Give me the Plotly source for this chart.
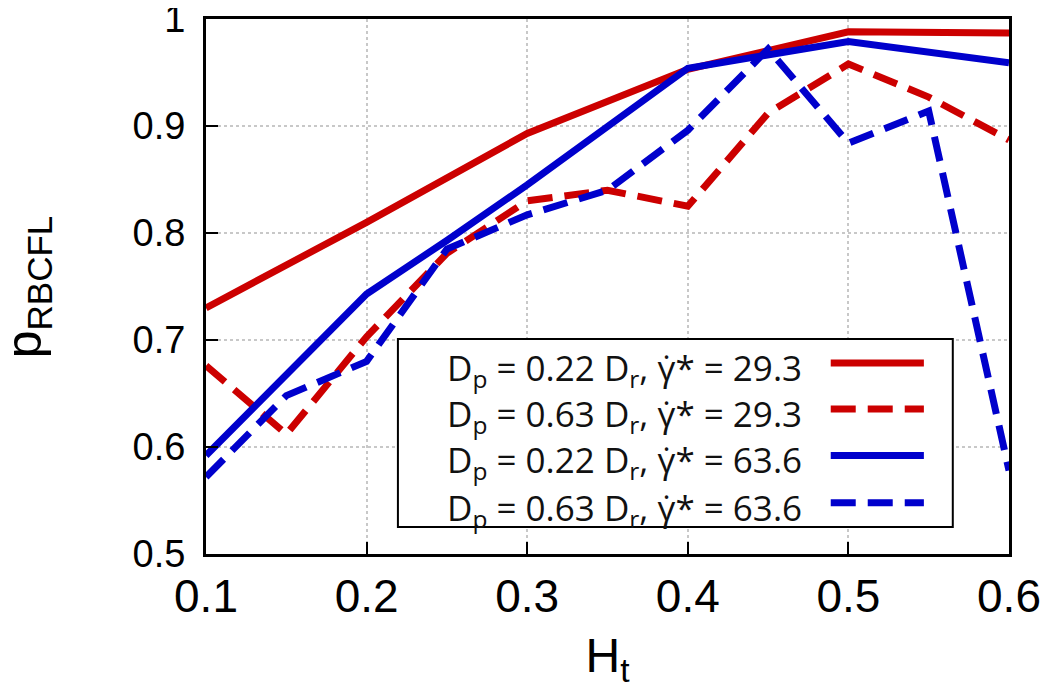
import plotly.graph_objects as go

# ---- data ----
x_solid_red = [0.1, 0.2, 0.3, 0.4, 0.5, 0.6]
y_solid_red = [0.730, 0.810, 0.893, 0.953, 0.988, 0.987]

x_solid_blue = [0.1, 0.2, 0.25, 0.3, 0.4, 0.5, 0.6]
y_solid_blue = [0.592, 0.743, 0.793, 0.845, 0.954, 0.979, 0.959]

x_dash = [0.1, 0.15, 0.2, 0.25, 0.3, 0.35, 0.4, 0.45, 0.5, 0.55, 0.6]
y_dash_red = [0.676, 0.612, 0.703, 0.781, 0.830, 0.840, 0.825, 0.912, 0.958, 0.927, 0.887]
y_dash_blue = [0.572, 0.648, 0.680, 0.785, 0.817, 0.840, 0.896, 0.972, 0.884, 0.914, 0.578]

legend_labels = [
    "D<sub>p</sub> = 0.22 D<sub>r</sub>, \u03b3\u0307* = 29.3",
    "D<sub>p</sub> = 0.63 D<sub>r</sub>, \u03b3\u0307* = 29.3",
    "D<sub>p</sub> = 0.22 D<sub>r</sub>, \u03b3\u0307* = 63.6",
    "D<sub>p</sub> = 0.63 D<sub>r</sub>, \u03b3\u0307* = 63.6",
]
x_ticks = [0.1, 0.2, 0.3, 0.4, 0.5, 0.6]
y_ticks = [0.5, 0.6, 0.7, 0.8, 0.9, 1.0]
y_tick_text = ["0.5", "0.6", "0.7", "0.8", "0.9", "1"]
x_title = "H<sub>t</sub>"
y_title = "p<sub>RBCFL</sub>"

RED = "#cc0000"
BLUE = "#0000cc"
LW = 7
DASH = "25px,12px"

series = [
    (x_solid_red, y_solid_red, RED, "solid"),
    (x_dash, y_dash_red, RED, DASH),
    (x_solid_blue, y_solid_blue, BLUE, "solid"),
    (x_dash, y_dash_blue, BLUE, DASH),
]

fig = go.Figure()
for (xs, ys, col, dash), name in zip(series, legend_labels):
    fig.add_trace(go.Scatter(x=xs, y=ys, mode="lines", name=name,
                             line=dict(color=col, width=LW, dash=dash),
                             showlegend=False, cliponaxis=True))

# ---- manual legend (text left, sample line right) ----
shapes = [dict(type="rect", xref="paper", yref="paper",
               x0=0.239, x1=0.930, y0=0.0505, y1=0.402,
               line=dict(color="black", width=2), fillcolor="white", layer="above")]
annotations = []
row_y = [0.357, 0.271, 0.184, 0.096]
for (xs, ys, col, dash), name, ry in zip(series, legend_labels, row_y):
    shapes.append(dict(type="line", xref="paper", yref="paper",
                       x0=0.778, x1=0.894, y0=ry, y1=ry,
                       line=dict(color=col, width=LW, dash=dash), layer="above"))
    annotations.append(dict(xref="paper", yref="paper", x=0.298, y=ry - 0.012,
                            xanchor="left", yanchor="middle", showarrow=False,
                            text=name, font=dict(family="Open Sans", size=35, color="#111")))

# y-axis title as rotated annotation
annotations.append(dict(xref="paper", yref="paper", x=-0.222, y=0.5,
                        xanchor="center", yanchor="middle", showarrow=False,
                        textangle=-90, text=y_title,
                        font=dict(family="Liberation Sans", size=50, color="black")))

fig.update_layout(
    width=1034, height=681,
    margin=dict(l=198, r=33, t=11, b=135),
    paper_bgcolor="white", plot_bgcolor="white",
    shapes=shapes, annotations=annotations,
    showlegend=False,
    font=dict(family="Liberation Sans", color="black"),
)
fig.update_xaxes(
    range=[0.1, 0.6], tickvals=x_ticks, ticktext=[f"{v:.1f}" for v in x_ticks],
    ticks="inside", ticklen=12, tickwidth=2, tickcolor="black",
    showline=True, linecolor="black", linewidth=3, mirror=True,
    showgrid=True, gridcolor="#c8c8c8", gridwidth=1.5, griddash="dot",
    tickfont=dict(size=46, family="Liberation Sans"), ticklabelstandoff=0,
    ticklabeloverflow="allow", automargin=False,
    title=dict(text=x_title, font=dict(size=48, family="Liberation Sans"), standoff=24),
    zeroline=False,
)
fig.update_yaxes(
    range=[0.5, 1.0], tickvals=y_ticks, ticktext=y_tick_text,
    ticks="inside", ticklen=12, tickwidth=2, tickcolor="black",
    showline=True, linecolor="black", linewidth=3, mirror=True,
    showgrid=True, gridcolor="#c8c8c8", gridwidth=1.5, griddash="dot",
    tickfont=dict(size=38, family="Liberation Sans"), ticklabelstandoff=10,
    ticklabeloverflow="allow", automargin=False,
    zeroline=False,
)

fig.write_html("out.html")
